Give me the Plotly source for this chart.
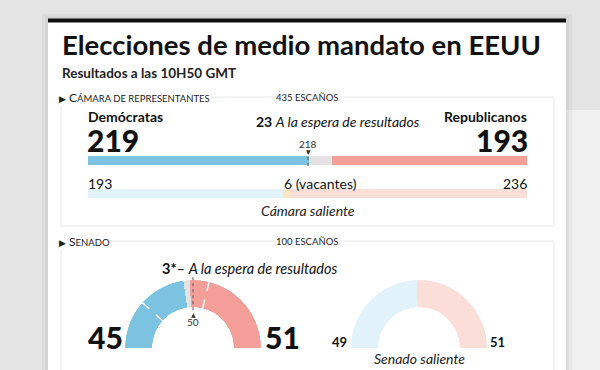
import math
import plotly.graph_objects as go

# ---------------- data ----------------
house_total = 435
house_majority = 218
house_labels = ["Demócratas", "Republicanos"]
house_now = [219, 193]           # Dem, Rep
house_pending = 23
house_old = [193, 236]           # Dem, Rep
house_old_vacant = 6

senate_total = 100
senate_majority = 50
senate_now = [45, 51]            # Dem, Rep
senate_pending = 3
senate_holdover = [23, 42]       # seats not up for election (Dem, Rep)
senate_old = [49, 51]            # Dem, Rep

# ---------------- style ----------------
W, H = 600, 370
FONT = "Lato"
BLUE, GRAY, RED = "#7cc3e1", "#e3e3e3", "#f39e98"
LBLUE, VAC, LRED = "#e2f2fa", "#fbe6c4", "#fcded8"
INK = "#111111"


def X(px):
    return px / W


def Y(py):
    return 1 - py / H


fig = go.Figure()

# ---------------- House bars ----------------
rows = [0, 1]
fig.add_trace(go.Bar(y=rows, x=[house_now[0], house_old[0]], orientation="h",
                     marker=dict(color=[BLUE, LBLUE], line=dict(width=0)),
                     width=0.245, hoverinfo="skip", showlegend=False))
fig.add_trace(go.Bar(y=rows, x=[house_pending, house_old_vacant], orientation="h",
                     marker=dict(color=[GRAY, VAC], line=dict(width=0)),
                     width=0.245, hoverinfo="skip", showlegend=False))
fig.add_trace(go.Bar(y=rows, x=[house_now[1], house_old[1]], orientation="h",
                     marker=dict(color=[RED, LRED], line=dict(width=0)),
                     width=0.245, hoverinfo="skip", showlegend=False))

# ---------------- Senate half donuts ----------------
R = 68
HOLE = 0.6
centers = [(193, 348), (419, 348)]


def half_donut(values, colors, subplot):
    tot = sum(values)
    cum = 0
    th, wd = [], []
    for v in values:
        th.append((cum + v / 2) * 180 / tot)
        wd.append(v * 180 / tot)
        cum += v
    fig.add_trace(go.Barpolar(r=[1] * len(values), theta=th, width=wd,
                              marker=dict(color=colors, line=dict(width=0)),
                              subplot=subplot, hoverinfo="skip", showlegend=False))
    return tot


left_vals = [senate_now[0], senate_pending, senate_now[1]]
tot_left = half_donut(left_vals, [BLUE, GRAY, RED], "polar")
half_donut(senate_old, [LBLUE, LRED], "polar2")

# holdover separators (white dashed)
for t in [senate_holdover[0], tot_left - senate_holdover[1]]:
    ang = t * 180 / tot_left
    fig.add_trace(go.Scatterpolar(r=[0, 1], theta=[ang, ang], mode="lines",
                                  line=dict(color="white", width=1.5, dash="dash"),
                                  subplot="polar", hoverinfo="skip", showlegend=False))


def polar_layout(c):
    cx, cy = c
    return dict(domain=dict(x=[X(cx - R), X(cx + R)], y=[Y(cy), Y(cy - R)]),
                sector=[0, 180], hole=HOLE, bgcolor="rgba(0,0,0,0)",
                radialaxis=dict(visible=False, range=[0, 1]),
                angularaxis=dict(visible=False, rotation=180, direction="clockwise"))


def prect(x0, x1, y0, y1, fill, line=None):
    return dict(type="rect", xref="paper", yref="paper", x0=X(x0), x1=X(x1), y0=Y(y1), y1=Y(y0),
                fillcolor=fill, line=line or dict(width=0), layer="below")


# ---------------- shapes ----------------
shapes = [
    # soft surroundings of the photographed screen
    prect(566, 600, 110, 370, "rgba(255,255,255,0.45)"),
    prect(42, 572, 14, 372, "rgba(0,0,0,0.03)"),
    prect(45, 569, 16, 372, "rgba(0,0,0,0.035)"),
    # card
    prect(48, 566, 20, 372, "white"),
    prect(48, 566, 18.5, 22.5, "#111111"),
    # boxes
    prect(61, 554, 97, 226, "rgba(0,0,0,0)", dict(color="#e8e8e8", width=1)),
    prect(61, 554, 241, 375, "rgba(0,0,0,0)", dict(color="#e8e8e8", width=1)),
    # house majority marker
    dict(type="line", xref="x", yref="paper", x0=house_majority, x1=house_majority,
         y0=Y(151), y1=Y(167), line=dict(color="#555", width=1, dash="dot")),
]

# senate majority marker
cx, cy = centers[0]
ang = math.radians(180 - senate_majority / senate_total * 180)
r0, r1 = R * HOLE - 3, R + 4
shapes.append(dict(type="line", xref="paper", yref="paper",
                   x0=X(cx + r0 * math.cos(ang)), x1=X(cx + r1 * math.cos(ang)),
                   y0=Y(cy - r0 * math.sin(ang)), y1=Y(cy - r1 * math.sin(ang)),
                   line=dict(color="#555", width=1, dash="dot")))

# ---------------- annotations ----------------
anns = []


def ann(text, x, y, size, xanchor="left", weight=400, style="normal", color=INK,
        xref="paper", bg=None, family=FONT):
    d = dict(text=text, x=x if xref != "paper" else X(x), y=Y(y), xref=xref, yref="paper",
             xanchor=xanchor, yanchor="middle", showarrow=False, borderpad=0,
             font=dict(family=family, size=size, color=color, weight=weight, style=style))
    if bg:
        d["bgcolor"] = bg
    anns.append(d)


def smallcaps(word):
    return f"{word[0]}<span style='font-size:9.5px'>{word[1:]}</span>"


ARROW = "<span style='font-family:DejaVu Sans;font-size:9px'>▶</span> "

ann("Elecciones de medio mandato en EEUU", 61, 45, 27.5, weight=700)
ann("Resultados a las 10H50 GMT", 61, 73, 13.5, weight=700, color="#222")

# house
ann(ARROW + smallcaps("CÁMARA DE REPRESENTANTES"), 58, 97, 12, bg="white", color="#222")
ann("<span style='font-size:9.5px'>435 ESCAÑOS</span>", 307, 97, 12, xanchor="center", bg="white", color="#222")
ann(house_labels[0], 87, 116, 14, weight=700)
ann(house_labels[1], 528, 116, 14, xanchor="right", weight=700)
ann(str(house_now[0]), 86, 140, 30, weight=900)
ann(str(house_now[1]), 529, 140, 30, xanchor="right", weight=900)
ann(f"<b>{house_pending}</b> <i>A la espera de resultados</i>", 338, 121, 14, xanchor="center")
ann(str(house_majority), house_majority, 144, 10, xanchor="center", xref="x", color="#333")
ann("▼", house_majority, 151, 6, xanchor="center", xref="x", color="#333", family="DejaVu Sans")
ann(str(house_old[0]), 87, 183, 14)
ann(str(house_old[1]), 528, 183, 14, xanchor="right")
ann(f"{house_old_vacant} (vacantes)", house_old[0], 183, 14, xref="x")
ann("Cámara saliente", 308, 210, 14, xanchor="center", style="italic", color="#222")

# senate
ann(ARROW + smallcaps("SENADO"), 58, 241, 12, bg="white", color="#222")
ann("<span style='font-size:9.5px'>100 ESCAÑOS</span>", 307, 241, 12, xanchor="center", bg="white", color="#222")
ann(f"<b>{senate_pending}*</b>– <i>A la espera de resultados</i>", 161, 268, 14.5)
ann("▲", cx, 314, 6, xanchor="center", color="#333", family="DejaVu Sans")
ann(str(senate_majority), cx, 322, 10, xanchor="center", color="#333")
ann(str(senate_now[0]), 124, 337, 30, xanchor="right", weight=900)
ann(str(senate_now[1]), 264, 337, 30, weight=900)
ann(str(senate_old[0]), 348, 342, 13, xanchor="right", weight=700)
ann(str(senate_old[1]), 489, 342, 13, weight=700)
ann("Senado saliente", 419, 358, 14, xanchor="center", style="italic", color="#222")

fig.update_layout(
    width=W, height=H, margin=dict(l=0, r=0, t=0, b=0),
    paper_bgcolor="#e4e4e4", plot_bgcolor="rgba(0,0,0,0)",
    barmode="stack", bargap=0,
    xaxis=dict(domain=[X(88), X(527)], range=[0, house_total], visible=False, fixedrange=True),
    yaxis=dict(domain=[Y(209.5), Y(143.5)], range=[1.5, -0.5], visible=False, fixedrange=True),
    polar=polar_layout(centers[0]),
    polar2=polar_layout(centers[1]),
    shapes=shapes, annotations=anns,
    font=dict(family=FONT),
)

fig.write_html("out.html", config=dict(displayModeBar=False),
               post_script="document.body.style.margin='0';document.body.style.overflow='hidden';")
